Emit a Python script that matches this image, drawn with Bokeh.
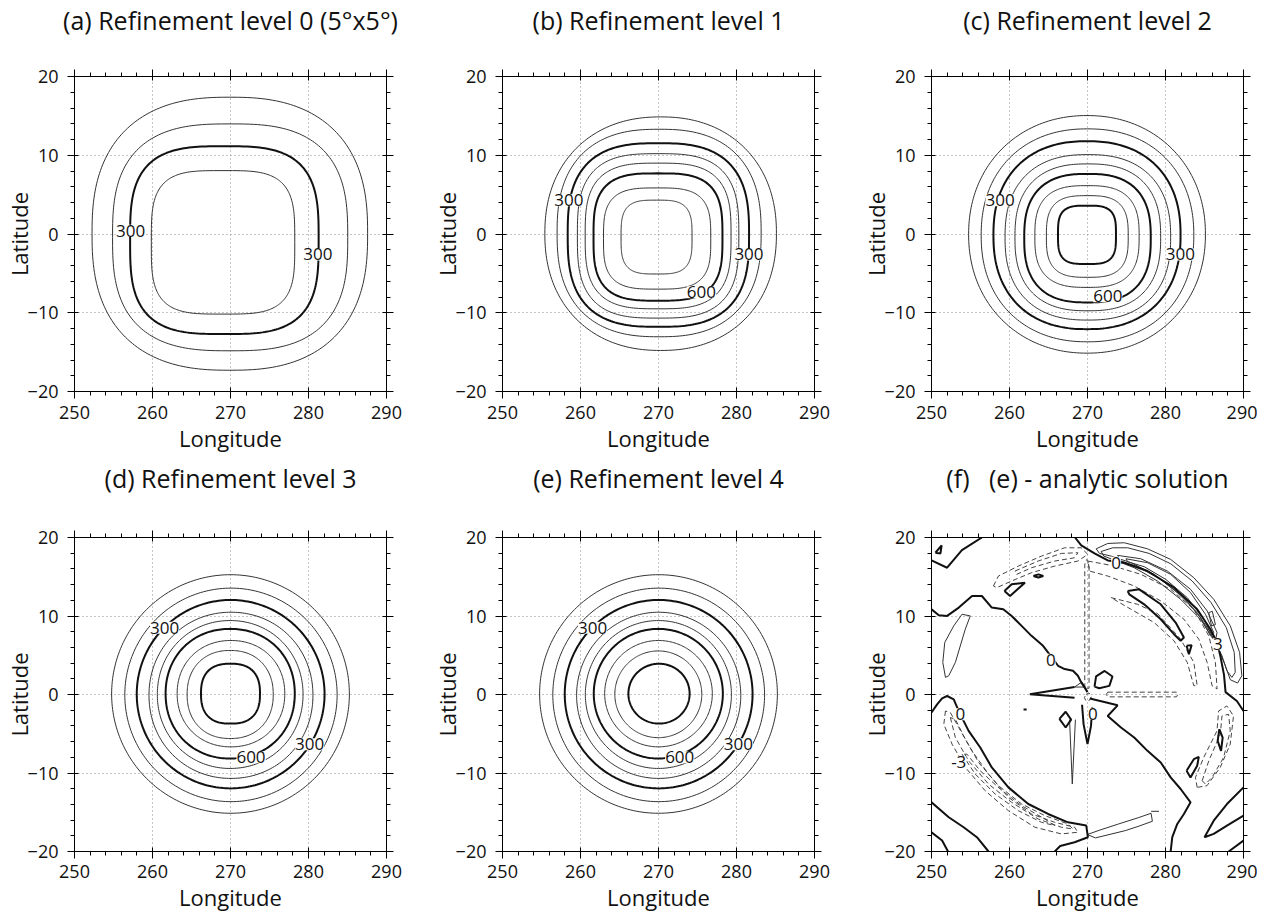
import numpy as np
from bokeh.plotting import figure
from bokeh.layouts import column, row
from bokeh.models import LinearAxis, FixedTicker, Range1d, Title
from bokeh.core.properties import value
from bokeh.embed import file_html
from bokeh.resources import INLINE

FONT = "Open Sans"

# ---------------- axes / ticks ----------------
x_ticks = [250, 260, 270, 280, 290]
x_minor = list(range(250, 291, 2))
y_ticks = [-20, -10, 0, 10, 20]
y_minor = list(range(-20, 21, 2))

titles = ["(a) Refinement level 0 (5\u00b0x5\u00b0)", "(b) Refinement level 1",
          "(c) Refinement level 2", "(d) Refinement level 3",
          "(e) Refinement level 4", "(f)\u00a0\u00a0 (e) - analytic solution"]

# ---------------- panel (a) : contour extents ----------------
a_levels = [100, 200, 300, 400]
a_left = [252.25, 254.88, 257.13, 259.85]
a_right = [287.58, 285.03, 281.3, 278.24]
a_bottom = [-17.3, -14.83, -12.7, -10.17]
a_top = [17.37, 13.98, 11.14, 8.05]
a_square = [2.5, 2.8, 3.2, 3.6]
a_lab_lon = [257.2, 281.2]
a_lab_lat = [0.4, -2.6]
a_lab_txt = ["300", "300"]

# ---------------- panel (b) ----------------
b_levels = [100, 200, 300, 400, 500, 600, 700, 800]
b_left = [255.43, 257.0, 258.36, 259.6, 260.6, 261.67, 262.95, 265.2]
b_right = [285.12, 283.16, 281.61, 280.3, 279.3, 278.2, 276.7, 274.3]
b_bottom = [-14.79, -13.05, -11.78, -10.68, -9.5, -8.47, -7.0, -5.08]
b_top = [14.87, 13.3, 11.53, 10.2, 9.0, 7.7, 5.85, 4.3]
b_square = [2.2, 2.5, 2.8, 3.0, 3.1, 3.2, 3.3, 3.4]
b_lab_lon = [258.5, 281.6, 275.5]
b_lab_lat = [4.3, -2.6, -7.4]
b_lab_txt = ["300", "300", "600"]

# ---------------- panel (c) ----------------
c_levels = [100, 200, 300, 400, 500, 600, 700, 800, 900]
c_left = [254.76, 256.37, 257.94, 259.43, 260.7, 261.89, 263.25, 264.73, 266.22]
c_right = [285.12, 283.63, 281.93, 280.66, 279.38, 278.11, 276.62, 275.22, 273.65]
c_bottom = [-15.13, -13.69, -12.08, -10.93, -9.75, -8.69, -6.78, -5.5, -3.81]
c_top = [15.04, 13.35, 11.78, 10.08, 8.9, 7.63, 6.14, 4.87, 3.6]
c_square = [2.1, 2.2, 2.3, 2.4, 2.5, 2.6, 2.8, 3.0, 3.4]
c_lab_lon = [258.8, 281.9, 272.6]
c_lab_lat = [4.3, -2.6, -7.9]
c_lab_txt = ["300", "300", "600"]

# ---------------- panel (d) ----------------
d_levels = [100, 200, 300, 400, 500, 600, 700, 800, 900]
d_left = [254.76, 256.45, 257.98, 259.55, 260.62, 261.68, 263.16, 264.44, 266.22]
d_right = [285.24, 283.67, 282.06, 280.57, 279.3, 278.24, 276.96, 275.48, 273.78]
d_bottom = [-15.13, -13.65, -11.96, -10.69, -9.42, -8.15, -6.67, -5.61, -3.71]
d_top = [15.26, 13.55, 12.04, 10.48, 9.42, 8.36, 6.88, 5.61, 3.92]
d_square = [2.0, 2.0, 2.0, 2.05, 2.05, 2.1, 2.1, 2.2, 2.5]
d_lab_lon = [261.55, 272.63, 280.15]
d_lab_lat = [8.49, -8.0, -6.35]
d_lab_txt = ["300", "600", "300"]

# ---------------- panel (e) ----------------
e_levels = [100, 200, 300, 400, 500, 600, 700, 800, 900]
e_left = [254.76, 256.45, 257.98, 259.5, 260.62, 261.7, 263.1, 264.4, 266.14]
e_right = [285.24, 283.6, 282.06, 280.55, 279.35, 278.25, 276.9, 275.55, 273.99]
e_bottom = [-15.13, -13.65, -11.96, -10.69, -9.42, -8.15, -6.67, -5.5, -3.71]
e_top = [15.26, 13.55, 12.04, 10.48, 9.42, 8.36, 6.88, 5.55, 3.92]
e_square = [2.0] * 9
e_lab_lon = [261.55, 272.72, 280.23]
e_lab_lat = [8.49, -8.0, -6.35]
e_lab_txt = ["300", "600", "300"]

# ---------------- panel (f) : traced contour lines (lon, lat) ----------------
# zero contour (bold)
f_zero_lon = [
    [250.0, 252.0, 253.9, 256.46],
    [250.5, 251.3, 251.15, 250.5],
    [250.0, 250.94, 252.0, 253.5, 255.2, 256.46, 257.73, 259.2, 260.28, 261.55, 262.82,
     264.3, 265.3, 266.23, 267.07, 268.14, 268.77, 269.2, 269.62, 270.0],
    [259.35, 260.28, 261.98, 260.07, 259.35],
    [263.06, 263.7, 264.33, 263.7, 263.06],
    [268.4, 269.2, 270.9, 272.6, 274.72, 277.69, 281.09, 284.06, 285.76, 286.61, 287.03,
     287.5, 287.7, 289.15, 290.0],
    [275.15, 276.63, 279.39, 281.3, 282.36, 281.94, 281.09, 279.39, 277.27, 275.36, 275.15],
    [282.71, 283.35, 283.0, 282.71],
    [270.9, 271.1, 272.2, 273.2, 272.8, 271.5, 270.9],
    [268.34, 262.61, 268.34],
    [270.3, 271.5, 273.86, 272.59, 274.29, 275.99, 277.69, 279.39, 280.66, 281.94, 283.21,
     282.36, 281.51, 280.87, 280.66],
    [269.3, 269.5, 270.0, 270.45, 270.6],
    [266.4, 267.2, 267.9, 267.2, 266.4],
    [261.8, 262.2],
    [250.0, 250.72, 251.36, 252.0, 252.85, 253.48, 254.76, 256.25, 257.73, 259.86, 262.41,
     264.95, 267.5, 269.84, 270.05, 268.35, 266.5, 265.8],
    [250.0, 252.21, 254.12, 255.82, 257.31],
    [250.0, 251.36, 252.12],
    [286.9, 287.33, 287.12, 286.69, 286.9],
    [282.7, 283.63, 284.27, 284.06, 283.21, 282.7],
    [290.0, 287.88, 286.18, 285.0, 286.18, 287.88, 290.0],
    [288.1, 290.0],
]
f_zero_lat = [
    [17.08, 16.15, 18.4, 20.0],
    [18.06, 18.99, 17.97, 18.06],
    [10.86, 10.1, 10.01, 11.07, 12.55, 12.55, 11.07, 10.86, 10.01, 8.74, 7.47,
     6.2, 4.9, 3.66, 3.24, 3.03, 2.39, 1.54, 0.91, 0.3],
    [13.19, 14.03, 14.25, 12.55, 13.19],
    [15.1, 15.3, 15.1, 14.9, 15.1],
    [20.0, 18.99, 17.97, 17.08, 16.79, 15.73, 13.61, 10.86, 8.32, 6.63, 4.93,
     2.5, 0.3, -0.83, -2.1],
    [13.19, 13.4, 11.49, 9.17, 7.26, 6.84, 7.68, 9.59, 11.49, 12.76, 13.19],
    [6.2, 6.29, 5.14, 6.2],
    [1.0, 2.3, 3.0, 2.3, 1.1, 0.8, 1.0],
    [0.95, 0.02, -0.4],
    [-0.5, -0.8, -1.38, -2.74, -4.21, -5.48, -7.18, -8.66, -10.56, -12.04, -13.74,
     -15.22, -16.49, -18.18, -20.0],
    [-1.3, -3.8, -6.3, -4.0, -1.6],
    [-3.1, -2.2, -3.2, -4.2, -3.1],
    [-1.9, -1.9],
    [-2.3, -1.25, -0.49, -0.19, -0.61, -2.1, -4.64, -6.75, -9.29, -11.83, -13.95,
     -15.22, -16.28, -16.7, -18.18, -18.82, -19.3, -20.0],
    [-13.74, -15.64, -16.91, -18.18, -20.0],
    [-17.55, -18.6, -20.0],
    [-4.42, -5.48, -7.18, -5.91, -4.42],
    [-9.72, -8.24, -7.94, -9.08, -10.56, -9.72],
    [-11.83, -13.95, -16.07, -18.18, -17.76, -16.7, -15.43],
    [-20.0, -18.6],
]

# positive contours (thin solid)
f_pos_lon = [
    [271.11, 272.6, 274.72, 277.69, 280.66, 283.63, 286.18, 288.31, 289.5, 289.79, 289.24,
     288.31, 287.67, 286.82, 285.76, 284.06, 281.51, 278.54, 275.57, 273.02, 271.54, 271.11],
    [271.75, 273.24, 275.15, 277.9, 280.66, 283.42, 285.84, 287.79, 288.81, 288.94, 288.51,
     287.88, 287.24, 286.18, 284.48, 281.94, 278.97, 275.99, 273.45, 272.09, 271.75],
    [273.87, 276.84, 280.24, 283.21, 285.34, 286.61, 286.4, 285.76, 284.48, 282.36, 279.39,
     276.42, 274.29, 273.87],
    [274.93, 277.69, 280.66, 283.21, 285.12, 286.18, 285.97, 284.91, 282.79, 280.03, 277.27,
     275.15, 274.93],
    [285.55, 286.0, 286.4, 285.9, 285.55],
    [253.91, 254.97, 254.33, 253.06, 252.21, 251.79, 251.45, 251.7, 252.85, 253.91],
    [267.7, 268.05, 268.45],
    [268.34, 269.28, 269.7, 268.34],
    [269.97, 271.5, 273.99, 276.5, 278.15, 278.32, 276.5, 274.84, 271.02, 269.97],
    [278.15, 279.17],
]
f_pos_lat = [
    [18.56, 19.24, 19.33, 18.56, 17.21, 14.88, 12.13, 8.74, 5.36, 2.39, 1.46,
     1.88, 3.66, 5.78, 7.9, 10.44, 12.98, 15.31, 16.79, 17.63, 17.97, 18.56],
    [18.22, 18.69, 18.69, 17.97, 16.66, 14.46, 11.71, 8.53, 5.36, 2.82, 2.18,
     3.03, 4.93, 7.05, 9.59, 12.13, 14.46, 16.15, 17.12, 17.63, 18.22],
    [17.72, 17.29, 15.73, 13.4, 10.65, 7.9, 6.84, 7.47, 9.8, 12.34, 14.67,
     16.28, 17.0, 17.72],
    [17.29, 16.79, 15.31, 12.98, 10.22, 7.9, 7.56, 9.59, 12.34, 14.67, 16.28,
     16.91, 17.29],
    [10.43, 10.6, 8.9, 8.74, 10.43],
    [10.22, 10.01, 8.32, 4.09, 2.39, 2.18, 4.09, 6.63, 8.74, 10.22],
    [-3.2, -11.4, -3.2],
    [0.95, 1.59, 0.95, 0.95],
    [-17.84, -17.3, -16.49, -15.7, -15.13, -16.15, -16.8, -17.34, -18.27, -17.84],
    [-14.88, -14.88],
]

# negative contours (thin dashed)
f_neg_lon = [
    [257.94, 258.58, 261.13, 264.1, 267.07, 269.19, 270.04, 268.77, 265.8, 262.83, 260.28,
     258.37, 257.94],
    [260.71, 263.67, 266.65, 268.77, 268.35, 265.8, 262.83, 260.92, 260.71],
    [270.05, 273.02, 276.84, 280.66, 283.63, 285.55, 286.4, 286.61, 285.97, 285.34, 284.27,
     282.36, 279.39, 275.99, 272.6, 270.26, 270.05],
    [273.02, 276.42, 279.0, 281.94, 283.63, 284.06, 283.63, 282.79, 281.09, 278.54, 275.57,
     273.02],
    [269.65, 269.65, 269.9, 270.2, 270.2, 269.65],
    [272.6, 281.4, 281.6, 281.4, 272.6, 272.4, 272.6],
    [269.8, 270.2, 270.5, 270.2, 269.8, 269.6, 269.8],
    [284.06, 283.84, 284.9, 286.6, 286.81, 287.87, 288.72, 288.3, 287.02, 285.32, 284.06],
    [284.7, 285.55, 287.03, 287.24, 288.09, 288.3, 287.45, 285.97, 285.12, 284.7],
    [251.79, 251.58, 252.64, 254.34, 256.88, 259.86, 263.25, 266.65, 268.77, 268.35, 265.8,
     262.83, 259.86, 257.31, 255.19, 253.49, 252.42, 251.79],
    [252.42, 253.06, 254.76, 257.31, 260.28, 263.68, 266.65, 268.14, 267.5, 264.53, 261.56,
     258.59, 256.04, 254.34, 253.06, 252.42],
    [253.91, 255.61, 258.16, 261.13, 264.1, 265.8, 264.53, 261.56, 258.8, 256.25, 254.55,
     253.91],
]
f_neg_lat = [
    [13.82, 15.09, 16.36, 17.63, 18.69, 18.69, 17.85, 17.0, 16.36, 15.52, 14.46,
     13.61, 13.82],
    [15.73, 17.0, 17.97, 18.06, 17.42, 17.0, 16.15, 15.31, 15.73],
    [17.0, 16.45, 15.31, 13.4, 10.86, 7.47, 4.09, 0.7, 1.12, 4.09, 7.05,
     9.59, 11.92, 13.82, 15.09, 15.73, 17.0],
    [12.34, 11.49, 10.3, 7.05, 4.09, 1.12, 1.12, 4.09, 6.84, 9.17, 10.86,
     12.34],
    [0.8, 16.6, 17.2, 16.6, 0.8, 0.8],
    [0.3, 0.3, 0.0, -0.3, -0.3, 0.0, 0.3],
    [0.0, 0.2, -0.3, -0.8, -0.8, -0.4, 0.0],
    [-11.83, -10.56, -8.02, -4.64, -2.1, -1.46, -2.73, -6.33, -9.29, -11.62, -11.83],
    [-10.99, -8.45, -5.06, -2.73, -2.52, -4.64, -8.02, -10.56, -11.41, -10.99],
    [-2.1, -3.79, -6.33, -9.29, -12.26, -14.8, -16.91, -17.76, -17.55, -16.91, -16.28,
     -15.22, -13.1, -10.14, -7.18, -4.21, -2.31, -2.1],
    [-2.94, -5.48, -8.45, -11.41, -13.74, -15.86, -16.91, -17.13, -16.49, -15.43, -13.95,
     -11.62, -8.66, -5.69, -3.15, -2.94],
    [-7.6, -10.14, -12.68, -14.8, -16.28, -16.7, -15.86, -14.16, -12.04, -9.72, -7.6,
     -7.6],
]
f_lab_lon = [273.66, 286.7, 265.29, 270.68, 253.7, 253.49]
f_lab_lat = [16.79, 6.41, 4.42, -2.43, -2.52, -8.66]
f_lab_txt = ["0", "3", "0", "0", "0", "-3"]

BOLD_COLOR = "#111111"
THIN_COLOR = "#333333"


def style_axis(ax):
    ax.axis_line_color = "black"
    ax.axis_line_width = 1
    ax.major_tick_line_color = "black"
    ax.minor_tick_line_color = "black"
    ax.major_tick_in = 4
    ax.major_tick_out = 7
    ax.minor_tick_in = 0
    ax.minor_tick_out = 4
    ax.major_label_text_font = FONT
    ax.major_label_text_font_size = "18px"
    ax.major_label_text_color = "#111111"
    ax.axis_label_text_font = FONT
    ax.axis_label_text_font_size = "22px"
    ax.axis_label_text_font_style = "normal"
    ax.axis_label_text_color = "#111111"


def make_panel(title, width, height, top_border, bottom_border, right_border,
               tick_standoff, label_standoff, title_gap):
    p = figure(width=width, height=height, x_range=Range1d(250, 290), y_range=Range1d(-20, 20),
               output_backend="svg", toolbar_location=None, tools="", title=None,
               min_border_left=72, min_border_right=right_border,
               min_border_top=top_border, min_border_bottom=bottom_border)
    p.outline_line_color = None
    p.background_fill_color = "white"
    p.border_fill_color = "white"

    bottom = p.below[0]
    left = p.left[0]
    bottom.ticker = FixedTicker(ticks=x_ticks, minor_ticks=x_minor)
    left.ticker = FixedTicker(ticks=y_ticks, minor_ticks=y_minor)
    top = LinearAxis(ticker=FixedTicker(ticks=x_ticks, minor_ticks=x_minor))
    right = LinearAxis(ticker=FixedTicker(ticks=y_ticks, minor_ticks=y_minor))
    p.add_layout(top, "above")
    p.add_layout(right, "right")

    for ax in [bottom, left, top, right]:
        style_axis(ax)
    for ax in [top, right]:
        ax.major_label_text_font_size = "1px"
        ax.major_label_text_color = None
        ax.major_label_standoff = 0

    # empty band (invisible ticks) that lifts the title away from the frame
    gap = LinearAxis(ticker=FixedTicker(ticks=[270], minor_ticks=[]), axis_line_color=None,
                     major_tick_line_color=None, minor_tick_line_color=None,
                     major_tick_in=0, major_tick_out=title_gap, minor_tick_out=0,
                     major_label_text_font_size="1px", major_label_text_color=None,
                     major_label_standoff=0)
    p.add_layout(gap, "above")

    t = Title(text=title, align="center", text_font=FONT, text_font_size="25px",
              text_font_style="normal", text_color="#111111", standoff=0)
    p.add_layout(t, "above")

    bottom.axis_label = "Longitude"
    bottom.major_label_standoff = tick_standoff
    bottom.axis_label_standoff = label_standoff
    left.axis_label = "Latitude"
    left.major_label_standoff = 9
    left.axis_label_standoff = -9

    for g in [p.xgrid[0], p.ygrid[0]]:
        g.grid_line_color = "#8a8a8a"
        g.grid_line_dash = "1 3"
        g.grid_line_width = 1
    return p


def ring_paths(left, right, bottom, top, square):
    th = np.linspace(0.0, 2.0 * np.pi, 241)
    c, s = np.cos(th), np.sin(th)
    xs, ys = [], []
    for l, r, b, t, n in zip(left, right, bottom, top, square):
        cx, cy = (l + r) / 2.0, (b + t) / 2.0
        rx, ry = (r - l) / 2.0, (t - b) / 2.0
        xs.append(list(cx + rx * np.sign(c) * np.abs(c) ** (2.0 / n)))
        ys.append(list(cy + ry * np.sign(s) * np.abs(s) ** (2.0 / n)))
    return xs, ys


def add_labels(p, lon, lat, txt):
    p.text(x=lon, y=lat, text=txt, text_font=value(FONT), text_font_size="17px",
           text_align="center", text_baseline="middle", text_color="#111111",
           background_fill_color="white")


def draw_rings(p, levels, left, right, bottom, top, square, lab_lon, lab_lat, lab_txt):
    xs, ys = ring_paths(left, right, bottom, top, square)
    bx = [x for x, lv in zip(xs, levels) if lv % 300 == 0]
    by = [y for y, lv in zip(ys, levels) if lv % 300 == 0]
    tx = [x for x, lv in zip(xs, levels) if lv % 300 != 0]
    ty = [y for y, lv in zip(ys, levels) if lv % 300 != 0]
    p.multi_line(xs=tx, ys=ty, line_color=THIN_COLOR, line_width=1.0)
    p.multi_line(xs=bx, ys=by, line_color=BOLD_COLOR, line_width=2.0)
    add_labels(p, lab_lon, lab_lat, lab_txt)


W = [428, 429, 400]
R = [42, 43, 14]
ROW1 = dict(height=458, top_border=76, bottom_border=67, tick_standoff=7, label_standoff=1,
            title_gap=33)
ROW2 = dict(height=458, top_border=78, bottom_border=65, tick_standoff=6, label_standoff=1,
            title_gap=36)

pa = make_panel(titles[0], W[0], right_border=R[0], **ROW1)
draw_rings(pa, a_levels, a_left, a_right, a_bottom, a_top, a_square, a_lab_lon, a_lab_lat, a_lab_txt)
pb = make_panel(titles[1], W[1], right_border=R[1], **ROW1)
draw_rings(pb, b_levels, b_left, b_right, b_bottom, b_top, b_square, b_lab_lon, b_lab_lat, b_lab_txt)
pc = make_panel(titles[2], W[2], right_border=R[2], **ROW1)
draw_rings(pc, c_levels, c_left, c_right, c_bottom, c_top, c_square, c_lab_lon, c_lab_lat, c_lab_txt)
pd = make_panel(titles[3], W[0], right_border=R[0], **ROW2)
draw_rings(pd, d_levels, d_left, d_right, d_bottom, d_top, d_square, d_lab_lon, d_lab_lat, d_lab_txt)
pe = make_panel(titles[4], W[1], right_border=R[1], **ROW2)
draw_rings(pe, e_levels, e_left, e_right, e_bottom, e_top, e_square, e_lab_lon, e_lab_lat, e_lab_txt)
pf = make_panel(titles[5], W[2], right_border=R[2], **ROW2)
pf.multi_line(xs=f_neg_lon, ys=f_neg_lat, line_color="#444444", line_width=1.0, line_dash="5 3")
pf.multi_line(xs=f_pos_lon, ys=f_pos_lat, line_color=THIN_COLOR, line_width=1.0)
pf.multi_line(xs=f_zero_lon, ys=f_zero_lat, line_color=BOLD_COLOR, line_width=2.0)
add_labels(pf, f_lab_lon, f_lab_lat, f_lab_txt)

layout = column(row(pa, pb, pc), row(pd, pe, pf))
open("out.html", "w").write(file_html(layout, INLINE))
